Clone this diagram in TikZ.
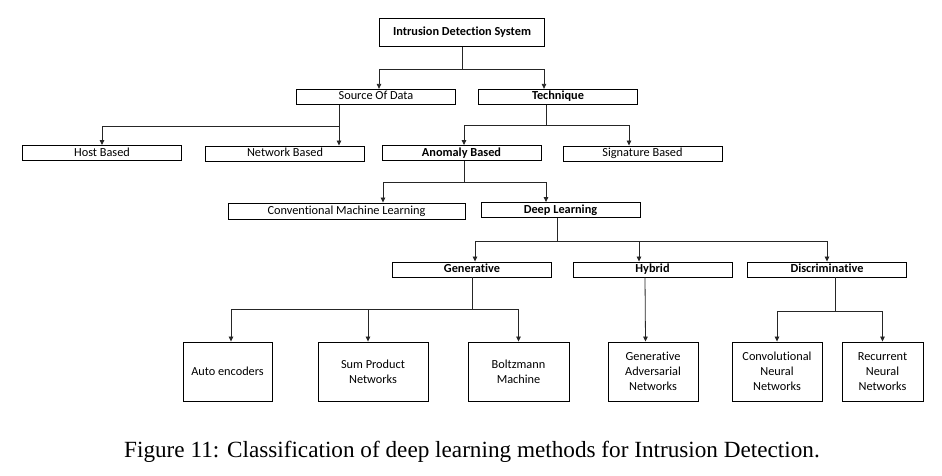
\documentclass[tikz,border=0pt]{standalone}
\usepackage{fontspec}
\setmainfont{Liberation Serif}
\newfontfamily\boxfont[Ligatures=NoCommon]{Carlito}
\usetikzlibrary{arrows.meta}
\usetikzlibrary{positioning}

\begin{document}
\begin{tikzpicture}[x=1pt,y=-1pt]
  % Define styles for boxes and links
  \tikzset{
    bar/.style={
      draw,
      rectangle,
      inner sep=0pt,
      minimum width=159pt,
      minimum height=15pt,
      text height=8.5pt,
      text depth=2.5pt,
      line width=0.9pt,
      font=\boxfont\fontsize{12.3}{15}\selectfont
    },
    head/.style={
      bar,
      font=\boxfont\bfseries\fontsize{12.3}{15}\selectfont
    },
    leaf/.style={
      draw,
      rectangle,
      inner sep=0pt,
      minimum height=59pt,
      align=center,
      line width=0.9pt,
      font=\boxfont\fontsize{12.3}{15}\selectfont
    },
    link/.style={
      draw=black!85,
      line width=0.8pt
    },
    arr/.style={
      link,
      -{Triangle[length=5pt, width=4.5pt]}
    }
  }
  \useasboundingbox (0,0) rectangle (942,475);

  % Root and first levels
  \node[head, minimum width=165pt, minimum height=28.5pt] (ids) at (462,32.5) {Intrusion Detection System};
  \node[bar] (src) at (376,96.8) {Source Of Data};
  \node[head] (tech) at (558,96.8) {Technique};
  \node[bar] (host) at (102,153) {Host Based};
  \node[bar] (net) at (285,153.5) {Network Based};
  \node[head] (anom) at (461.5,153) {Anomaly Based};
  \node[bar] (sig) at (642.5,153.5) {Signature Based};
  \node[bar, minimum width=237pt, minimum height=16pt] (cml) at (346.5,211) {Conventional Machine Learning};
  \node[head] (dl) at (560.5,210) {Deep Learning};
  \node[head] (gen) at (472,269.5) {Generative};
  \node[head] (hyb) at (652.5,269.5) {Hybrid};
  \node[head] (disc) at (827,269.5) {Discriminative};

  % Leaves in the bottom row
  \foreach \nm/\x/\w/\txt in {ae/227.5/89/{Auto encoders}, spn/373/110/{Sum Product\\Networks},
      bm/518.5/101/{Boltzmann\\Machine}, gan/653/90/{Generative\\Adversarial\\Networks},
      cnn/777/90/{Convolutional\\Neural\\Networks}, rnn/882.5/81/{Recurrent\\Neural\\Networks}} {
    \node[leaf, minimum width=\w pt] (\nm) at (\x,371.5) {\txt};
  }

  % Branch points
  \coordinate (b1) at (462,69);
  \coordinate (b2) at (339,126);
  \coordinate (b3) at (546,125);
  \coordinate (b4) at (464,182);
  \coordinate (b5) at (557,241);
  \coordinate (b6) at (472,309);
  \coordinate (b7) at (835,311);

  % Connect the boxes
  \draw[link] (ids.south) -- (b1);
  \draw[arr] (b1) -| ([xshift=3pt]src.north);
  \draw[arr] (b1) -| ([xshift=-14pt]tech.north);

  \draw[arr] ([xshift=-37pt]src.south) -- ([xshift=54pt]net.north);
  \draw[arr] (b2) -| (host.north);

  \draw[link] ([xshift=-12pt]tech.south) -- (b3);
  \draw[arr] (b3) -| ([xshift=2.5pt]anom.north);
  \draw[arr] (b3) -| ([xshift=-13.5pt]sig.north);

  \draw[link] ([xshift=2.5pt]anom.south) -- (b4);
  \draw[arr] (b4) -| ([xshift=36.5pt]cml.north);
  \draw[arr] (b4) -| ([xshift=-14.5pt]dl.north);

  \draw[link] ([xshift=-3.5pt]dl.south) -- (b5);
  \draw[arr] (b5) -| ([xshift=3pt]gen.north);
  \draw[arr] (b5) -| ([xshift=-13.5pt]hyb.north);
  \draw[arr] (b5) -| (disc.north);

  \draw[link] (gen.south) -- (b6);
  \draw[arr] (b6) -| ([xshift=3.5pt]ae.north);
  \draw[arr] (b6) -| ([xshift=-5pt]spn.north);
  \draw[arr] (b6) -| (bm.north);

  \draw[arr] ([xshift=-7.5pt]hyb.south) -- ([xshift=-7.5pt]gan.north);

  \draw[link] ([xshift=8pt]disc.south) -- (b7);
  \draw[arr] (b7) -| (cnn.north);
  \draw[arr] (b7) -| (rnn.north);

  % Caption below the chart
  \node[font=\fontsize{23.2}{27}\selectfont] (caption) at (472,452) {Figure 11: Classification of deep learning methods for Intrusion Detection.};
\end{tikzpicture}
\end{document}
